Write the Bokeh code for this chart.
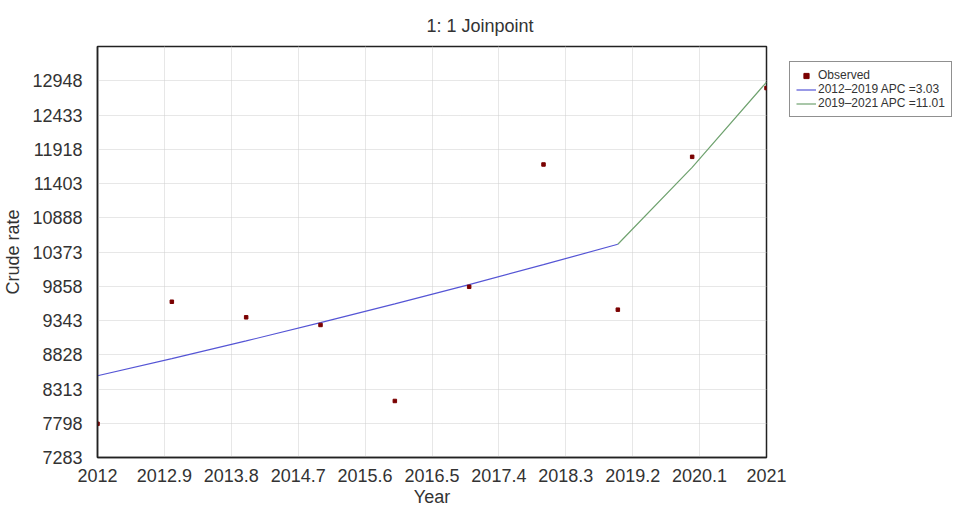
from bokeh.plotting import figure
from bokeh.models import FixedTicker, Legend, LegendItem, Range1d
from bokeh.embed import file_html
from bokeh.resources import INLINE

# ---- data ----
years = [2012, 2013, 2014, 2015, 2016, 2017, 2018, 2019, 2020, 2021]
observed = [7790, 9625, 9391, 9276, 8133, 9850, 11689, 9506, 11804, 12838]

seg1_years = [2012, 2013, 2014, 2015, 2016, 2017, 2018, 2019]
seg1_fit = [8512, 8770, 9036, 9310, 9592, 9882, 10182, 10490]
seg2_years = [2019, 2020, 2021]
seg2_fit = [10490, 11645, 12927]

x_ticks = [2012, 2012.9, 2013.8, 2014.7, 2015.6, 2016.5, 2017.4, 2018.3, 2019.2, 2020.1, 2021]
x_tick_labels = ["2012", "2012.9", "2013.8", "2014.7", "2015.6", "2016.5",
                 "2017.4", "2018.3", "2019.2", "2020.1", "2021"]
y_ticks = [7283, 7798, 8313, 8828, 9343, 9858, 10373, 10888, 11403, 11918, 12433, 12948]

FONT = "Liberation Sans"
TXT = "#333333"

p = figure(frame_width=669, frame_height=411,
           x_range=Range1d(2012, 2021), y_range=Range1d(7283, 13463),
           output_backend="svg", toolbar_location=None,
           min_border_left=86, min_border_right=190, min_border_top=46, min_border_bottom=47,
           title="1: 1 Joinpoint", x_axis_label="Year", y_axis_label="Crude rate")

p.background_fill_color = "white"
p.outline_line_color = "#222222"
p.outline_line_width = 1.5

p.title.align = "left"
p.title.offset = 329
p.title.text_font = FONT
p.title.text_font_size = "18px"
p.title.text_font_style = "normal"
p.title.text_color = TXT
p.title.standoff = 22

p.xaxis.ticker = FixedTicker(ticks=x_ticks)
p.xaxis.major_label_overrides = dict(zip(x_ticks, x_tick_labels))
p.yaxis.ticker = FixedTicker(ticks=y_ticks)

for ax in (p.xaxis, p.yaxis):
    ax.major_tick_line_color = None
    ax.minor_tick_line_color = None
    ax.axis_line_color = "#222222"
    ax.axis_line_width = 1.5
    ax.major_label_text_font = FONT
    ax.major_label_text_font_size = "18px"
    ax.major_label_text_color = TXT
    ax.axis_label_text_font = FONT
    ax.axis_label_text_font_size = "18px"
    ax.axis_label_text_font_style = "normal"
    ax.axis_label_text_color = TXT

p.xaxis.major_label_standoff = 5
p.xaxis.axis_label_standoff = 2
p.yaxis.major_label_standoff = 9
p.yaxis.axis_label_standoff = 6

p.xgrid.grid_line_color = "#cfcfcf"
p.ygrid.grid_line_color = "#cfcfcf"
p.xgrid.grid_line_dash = "1 1"
p.ygrid.grid_line_dash = "1 1"

l1 = p.line(seg1_years, seg1_fit, line_color="#5555d5", line_width=1.2)
l2 = p.line(seg2_years, seg2_fit, line_color="#6fa26f", line_width=1.2)
pts = p.scatter(years, observed, marker="square", size=3.5, fill_color="#7a0000", line_color="#7a0000")

legend = Legend(items=[LegendItem(label="Observed", renderers=[pts]),
                       LegendItem(label="2012\u20132019 APC =3.03", renderers=[l1]),
                       LegendItem(label="2019\u20132021 APC =11.01", renderers=[l2])],
                location=(23, 340))
legend.label_text_font = FONT
legend.label_text_font_size = "12px"
legend.label_text_color = TXT
legend.glyph_width = 20
legend.glyph_height = 13
legend.label_height = 13
legend.label_standoff = 2
legend.spacing = 0
legend.padding = 6
legend.margin = 0
legend.border_line_color = "#222222"
legend.border_line_width = 1.5
legend.background_fill_alpha = 1
p.add_layout(legend, "right")

open("out.html", "w").write(file_html(p, INLINE))
